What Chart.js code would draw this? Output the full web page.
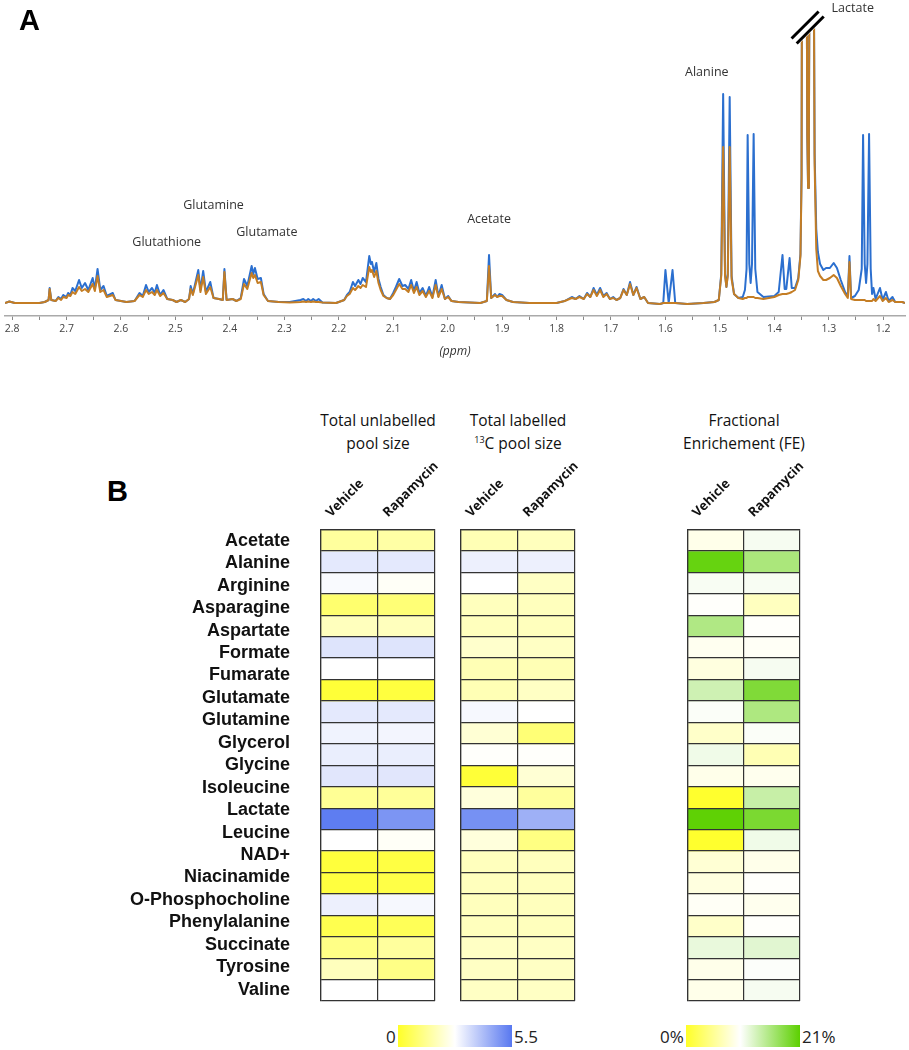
<!DOCTYPE html>
<html><head><meta charset="utf-8">
<script src="https://cdn.jsdelivr.net/npm/chart.js@4.4.1/dist/chart.umd.min.js"></script>
<style>
html,body{margin:0;padding:0;background:#fff;}
#wrap{position:relative;width:909px;height:1050px;overflow:hidden;font-family:'Open Sans',sans-serif;}
canvas{position:absolute;}
.panel{position:absolute;font:bold 29px 'Liberation Sans',Arial,sans-serif;line-height:29px;color:#000;}
.head{position:absolute;width:220px;text-align:center;font-size:15.5px;line-height:23px;color:#111;}
.head sup{font-size:9px;line-height:0;vertical-align:6px;}
.bar{position:absolute;top:1025px;height:22px;width:114px;}
.cbl{position:absolute;top:1026px;font-size:17px;line-height:22px;color:#222;white-space:nowrap;}
</style></head>
<body><div id="wrap">
<canvas id="spec" width="909" height="370" style="left:0;top:0"></canvas>
<div class="panel" style="left:19px;top:6px">A</div>
<div class="panel" style="left:107px;top:477px">B</div>
<div class="head" style="left:268px;top:409px">Total unlabelled<br>pool size</div>
<div class="head" style="left:408px;top:409px">Total labelled<br><sup>13</sup>C pool size</div>
<div class="head" style="left:634px;top:409px">Fractional<br>Enrichement (FE)</div>
<canvas id="heat1" width="440" height="548" style="left:0;top:455px"></canvas>
<canvas id="heat2" width="140" height="548" style="left:440px;top:455px"></canvas>
<canvas id="heat3" width="150" height="548" style="left:660px;top:455px"></canvas>
<div id="bar1" class="bar" style="left:398px"></div>
<div id="bar2" class="bar" style="left:686px"></div>
<div id="lab1a" class="cbl" style="left:386px"></div>
<div id="lab1b" class="cbl" style="left:514px"></div>
<div id="lab2a" class="cbl" style="left:660px"></div>
<div id="lab2b" class="cbl" style="left:802px"></div>
</div>
<script>
// ---------- Panel A: NMR spectrum (ppm, intensity) ----------
const specPpm = [
2.813,2.805,2.795,2.75,2.74,2.733,2.731,2.728,2.72,2.715,
2.71,2.706,2.70,2.697,2.693,2.689,2.684,2.677,2.672,2.666,
2.660,2.652,2.648,2.643,2.638,2.632,2.626,2.615,2.610,2.59,
2.575,2.566,2.56,2.554,2.549,2.543,2.538,2.534,2.528,2.522,
2.515,2.505,2.498,2.49,2.482,2.475,2.472,2.468,2.458,2.454,
2.449,2.444,2.436,2.43,2.42,2.413,2.410,2.406,2.395,2.388,
2.38,2.374,2.368,2.36,2.357,2.354,2.349,2.343,2.338,2.33,
2.31,2.29,2.27,2.265,2.26,2.256,2.251,2.247,2.242,2.237,
2.23,2.205,2.19,2.185,2.18,2.174,2.17,2.164,2.16,2.156,
2.15,2.144,2.141,2.139,2.135,2.131,2.127,2.123,2.118,2.112,
2.106,2.100,2.095,2.089,2.083,2.078,2.072,2.067,2.062,2.057,
2.052,2.046,2.04,2.034,2.028,2.022,2.017,2.011,2.005,1.999,
1.993,1.98,1.94,1.928,1.924,1.920,1.913,1.909,1.905,1.900,
1.892,1.88,1.85,1.80,1.785,1.772,1.765,1.758,1.75,1.744,
1.738,1.732,1.726,1.720,1.714,1.708,1.702,1.696,1.69,1.683,
1.677,1.671,1.665,1.659,1.653,1.646,1.639,1.632,1.61,1.604,
1.600,1.594,1.587,1.582,1.56,1.53,1.51,1.502,1.4975,1.494,
1.4905,1.488,1.4855,1.482,1.4785,1.474,1.466,1.458,1.454,1.451,
1.449,1.446,1.4435,1.441,1.438,1.435,1.431,1.42,1.40,1.392,
1.385,1.381,1.378,1.372,1.368,1.362,1.356,1.352,1.350,1.349,
1.341,1.3395,1.338,1.3365,1.335,1.328,1.326,1.323,1.320,1.316,
1.31,1.305,1.298,1.291,1.285,1.278,1.27,1.265,1.262,1.259,
1.252,1.245,1.2395,1.237,1.234,1.2315,1.229,1.226,1.223,1.2205,
1.218,1.214,1.206,1.201,1.195,1.19,1.183,1.178,1.165,1.160
];
const specVehicle = [
1,2.5,1,1,2,4,16,4,3,7,
5,9,7,11,9,16,13,24,16,21,
14,26,15,35,14,18,8,11,4,2,
3,11,8,19,12,16,11,19,9,14,
5,4,2,4,2,5,18,10,34,14,
33,12,22,6,5,4,35,4,5,3,
6,25,18,38,30,36,25,26,10,3,
2,2,4,5,3,5,3,5,3,5,
1.5,1,4,9,12,22,18,24,20,26,
22,48,40,42,32,41,25,17,9,6,
5,11,17,25,18,19,15,24,13,22,
11,16,8,17,7,24,8,19,5,8,
3,2,1,3,49,6,10,7,10,9,
4,2,1,1,3,7,5,8,5,11,
7,16,9,16,8,11,5,7,4,6,
15,9,22,9,17,5,7,1,0,1,
34,1,34,1,0,1,2,4,30,210,
30,17,30,207,28,10,6,7,14,35,
169,40,21,40,170,35,12,7,8,12,
49,15,15,46,16,16,26,50,130,400,
400,170,116,170,400,400,150,75,52,40,
34,36,36,41,36,24,12,8,48,6,
8,14,35,169,40,21,40,170,35,10,
16,5,16,4,12,3,7,2,2,1
];
const specRapamycin = [
1,2.5,1,1,2,4,15,4,3,6,
4,7,6,9,8,12,10,17,13,15,
12,20,13,28,12,14,7,9,4,2,
3,9,7,14,10,12,9,14,8,11,
5,4,2,4,2,5,15,9,29,12,
27,10,17,6,5,4,32,4,5,3,
5,20,15,31,26,29,21,22,9,3,
2,1.5,2,2.5,2,2.5,2,2.5,2,2,
1.5,1,4,8,10,16,14,18,16,19,
17,37,32,34,27,33,21,14,8,6,
5,9,14,20,15,15,12,19,11,17,
9,13,7,13,6,19,7,15,5,7,
3,2,1,3,38,6,9,7,8,8,
4,2,1,1,3,6,5,7,5,10,
7,14,8,14,7,10,5,6,4,6,
14,9,20,9,16,5,7,1,0,1,
1,1,1,1,0,1,2,4,28,157,
28,17,28,157,25,10,6,5,6,6,
7,7,7,7,7,6,6,5,7,9,
10,10,10,11,12,14,24,48,125,400,
400,170,116,170,400,400,140,55,33,28,
24,24,26,29,26,18,10,6,42,5,
4,4,4,4,4,3,3,3,3,3,
5,3,8,3,6,2,4,2,2,1
];
const annotationNames = ['Glutathione','Glutamine','Glutamate','Acetate','Alanine','Lactate'];
const annotationPpm = [2.516, 2.430, 2.332, 1.924, 1.524, 1.256];
const annotationHeight = [62, 99, 72, 85, 232, 296];
const breakPpm = [1.3636, 1.314];
const breakHeight = [263, 290];

// ---------- Panel B: heatmaps (22 rows as drawn) ----------
const metabolites = ['Acetate','Alanine','Arginine','Asparagine','Aspartate','Formate','Fumarate','Glutamate','Glutamine','Glycerol','Glycine','Isoleucine','Lactate','Leucine','NAD+','Niacinamide','O-Phosphocholine','Phenylalanine','Succinate','Tyrosine','Valine'];
const columns = ['Vehicle','Rapamycin'];
const poolVehicle    = [1.5,3.2,2.85,0.9,1.9,3.3,2.75,0.2,3.2,3.0,3.1,3.25,1.4,5.4,2.75,0.25,0.3,3.05,0.5,1.2,1.9,2.75];
const poolRapamycin  = [1.6,3.2,2.65,1.0,1.9,3.3,2.75,0.3,3.2,2.95,3.1,3.25,1.45,4.9,2.65,0.35,0.4,2.9,0.6,1.5,1.2,2.75];
const labelledVehicle   = [1.8,3.05,2.75,1.9,1.9,2.1,1.8,1.8,2.9,2.2,2.7,0.2,2.3,5.0,2.3,1.9,1.9,1.9,1.9,2.0,2.0,2.0];
const labelledRapamycin = [1.9,3.05,2.0,1.9,1.9,2.0,1.8,2.0,2.75,1.0,2.7,2.2,1.5,4.35,1.15,1.9,1.9,1.9,1.9,2.0,2.0,2.0];
const feVehicle   = [9,20.3,10.5,9.8,15.3,9.3,8.5,13.3,10.3,7.5,11,9,0.3,20.8,0.3,8,8.5,9.6,7.5,11.5,9,9];
const feRapamycin = [10.6,15.7,10.5,7,9.8,9.6,10.6,18.6,15.5,10.3,6.5,9.2,13.8,18.9,11,9,9.8,9.2,9.8,12,10.2,10.6];
const poolScale = [0, 2.75, 5.5];
const poolScaleColors = [[255,255,40],[255,255,255],[88,120,240]];
const feScale = [0, 10, 21];
const feScaleColors = [[255,255,40],[255,255,255],[92,208,0]];
const poolScaleLabels = ['0','5.5'];
const feScaleLabels = ['0%','21%'];

Chart.defaults.font.family = "'Open Sans', sans-serif";

function colorAt(vals, cols, v) {
  if (v <= vals[0]) return 'rgb(' + cols[0].join(',') + ')';
  for (let i = 1; i < vals.length; i++) {
    if (v <= vals[i]) {
      const t = (v - vals[i-1]) / (vals[i] - vals[i-1]);
      const c = cols[i-1].map((a, k) => Math.round(a + (cols[i][k] - a) * t));
      return 'rgb(' + c.join(',') + ')';
    }
  }
  return 'rgb(' + cols[cols.length-1].join(',') + ')';
}

// ---------- Spectrum chart ----------
const specDecor = {
  id: 'specDecor',
  afterDatasetsDraw(chart) {
    const {ctx, scales: {x, y}} = chart;
    ctx.save();
    const x1 = x.getPixelForValue(breakPpm[0]), y1 = y.getPixelForValue(breakHeight[0]);
    const x2 = x.getPixelForValue(breakPpm[1]), y2 = y.getPixelForValue(breakHeight[1]);
    const len = Math.hypot(x2 - x1, y2 - y1), nx = -(y2 - y1) / len, ny = (x2 - x1) / len;
    ctx.lineCap = 'butt';
    ctx.strokeStyle = '#fff'; ctx.lineWidth = 11;
    ctx.beginPath(); ctx.moveTo(x1, y1); ctx.lineTo(x2, y2); ctx.stroke();
    ctx.strokeStyle = '#000'; ctx.lineWidth = 3;
    [-3.6, 3.6].forEach(s => {
      ctx.beginPath(); ctx.moveTo(x1 + nx * s, y1 + ny * s); ctx.lineTo(x2 + nx * s, y2 + ny * s); ctx.stroke();
    });
    ctx.fillStyle = '#333';
    ctx.font = "12.5px 'Open Sans', sans-serif";
    ctx.textAlign = 'center'; ctx.textBaseline = 'middle';
    annotationNames.forEach((n, i) => {
      ctx.fillText(n, x.getPixelForValue(annotationPpm[i]), y.getPixelForValue(annotationHeight[i]));
    });
    ctx.restore();
  }
};

new Chart(document.getElementById('spec'), {
  type: 'line',
  data: {
    datasets: [
      { label: 'Rapamycin', data: specPpm.map((p, i) => ({x: p, y: specRapamycin[i]})),
        borderColor: '#c47d24', borderWidth: 2, pointRadius: 0, tension: 0, borderJoinStyle: 'round' },
      { label: 'Vehicle', data: specPpm.map((p, i) => ({x: p, y: specVehicle[i]})),
        borderColor: '#2b6fcf', borderWidth: 2, pointRadius: 0, tension: 0, borderJoinStyle: 'round' }
    ]
  },
  options: {
    responsive: false, animation: false, devicePixelRatio: 1,
    layout: { padding: { left: 5, right: 4, top: 28, bottom: 0 } },
    plugins: { legend: { display: false }, tooltip: { enabled: false } },
    scales: {
      x: {
        type: 'linear', reverse: true, min: 1.16, max: 2.813,
        ticks: {
          stepSize: 0.05, autoSkip: false, maxRotation: 0, includeBounds: false, padding: 3,
          color: '#444', font: { size: 10.5 },
          callback: v => { const r = Math.round(v * 100); return r % 10 === 0 ? (r / 100).toFixed(1) : ''; }
        },
        grid: { drawOnChartArea: false, tickLength: 4, color: '#888' },
        border: { color: '#aaa', width: 1.5 },
        title: { display: true, text: '(ppm)', color: '#333', font: { size: 12, style: 'italic' }, padding: { top: 0, bottom: 11 } },
        afterFit: s => { s.height = 54; }
      },
      y: { display: false, min: -12, max: 276 }
    }
  },
  plugins: [specDecor]
});

// ---------- Heatmap charts ----------
function heatChart(id, veh, rap, vals, cols, pad, withNames) {
  const datasets = veh.map((v, i) => ({
    label: 'row ' + (i + 1),
    data: [1, 1],
    backgroundColor: [colorAt(vals, cols, veh[i]), colorAt(vals, cols, rap[i])],
    borderWidth: 0, barPercentage: 1, categoryPercentage: 1,
    xAxisID: 'x', yAxisID: 'y'
  }));
  const scales = {
    x: {
      type: 'category', position: 'top', stacked: true, offset: true, z: 1,
      grid: { offset: true, color: '#333', lineWidth: 1.2, drawTicks: false, z: 1 },
      border: { color: '#333', width: 1.2, z: 1 },
      ticks: { minRotation: 45, maxRotation: 45, labelOffset: -10, padding: 9, autoSkip: false,
               color: '#111', font: { size: 13, weight: 'bold' } },
      afterFit: s => { s.height = 74.5; s.paddingLeft = 0; s.paddingRight = 0; }
    },
    y: {
      type: 'linear', position: 'left', min: 0, max: 22, reverse: true, stacked: true, z: 1,
      ticks: { display: false, stepSize: 1 },
      grid: { color: '#333', lineWidth: 1.2, drawTicks: false, z: 1 },
      border: { color: '#333', width: 1.2, z: 1 },
      afterFit: s => { s.width = 0; s.paddingTop = 0; s.paddingBottom = 0; }
    }
  };
  if (withNames) {
    scales.names = {
      type: 'category', position: 'left', labels: metabolites, offset: true,
      grid: { display: false, drawTicks: false }, border: { display: false },
      ticks: { autoSkip: false, padding: 31, color: '#111',
               font: { family: "'Liberation Sans', Arial, sans-serif", size: 18, weight: 'bold' } },
      afterFit: s => { s.width = 321; s.paddingTop = 0; s.paddingBottom = 0; }
    };
  }
  new Chart(document.getElementById(id), {
    type: 'bar',
    data: { labels: columns, datasets },
    options: {
      responsive: false, animation: false, devicePixelRatio: 1,
      layout: { padding: pad },
      plugins: { legend: { display: false }, tooltip: { enabled: false } },
      scales
    }
  });
}

heatChart('heat1', poolVehicle, poolRapamycin, poolScale, poolScaleColors, { left: 0, right: 5, top: 0, bottom: 2 }, true);
heatChart('heat2', labelledVehicle, labelledRapamycin, poolScale, poolScaleColors, { left: 21, right: 5, top: 0, bottom: 2 }, false);
heatChart('heat3', feVehicle, feRapamycin, feScale, feScaleColors, { left: 28, right: 10, top: 0, bottom: 2 }, false);

// ---------- Colour bars ----------
function gradientCss(vals, cols) {
  const max = vals[vals.length - 1];
  return 'linear-gradient(to right,' + vals.map((v, i) => 'rgb(' + cols[i].join(',') + ') ' + (v / max * 100) + '%').join(',') + ')';
}
document.getElementById('bar1').style.background = gradientCss(poolScale, poolScaleColors);
document.getElementById('bar2').style.background = gradientCss(feScale, feScaleColors);
document.getElementById('lab1a').textContent = poolScaleLabels[0];
document.getElementById('lab1b').textContent = poolScaleLabels[1];
document.getElementById('lab2a').textContent = feScaleLabels[0];
document.getElementById('lab2b').textContent = feScaleLabels[1];
</script>
</body></html>
